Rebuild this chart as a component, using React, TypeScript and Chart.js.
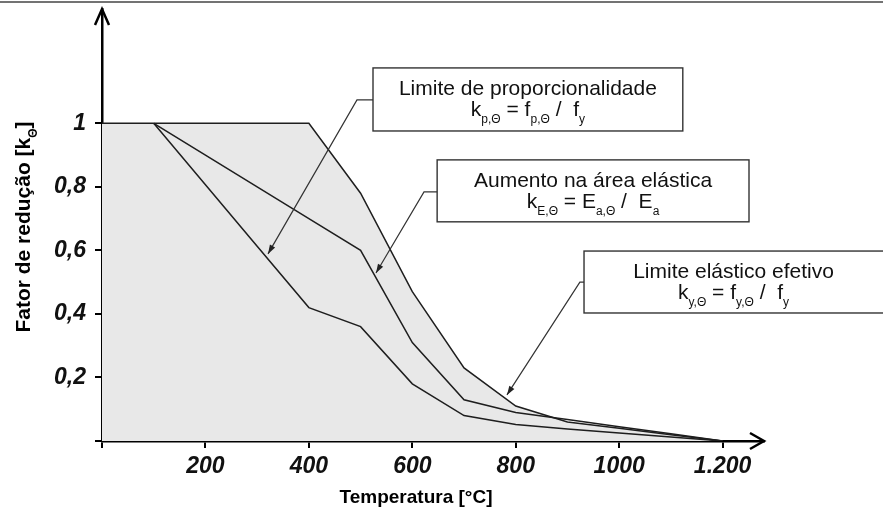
import React, { useEffect, useRef } from "react";
import { Chart, registerables } from "chart.js";

Chart.register(...registerables);

// ---- data ----
const tempsKy = [0, 100, 200, 300, 400, 500, 600, 700, 800, 900, 1000, 1100, 1200];
const kyValues = [1, 1, 1, 1, 1, 0.78, 0.47, 0.23, 0.11, 0.06, 0.04, 0.02, 0];
const tempsK = [100, 200, 300, 400, 500, 600, 700, 800, 900, 1000, 1100, 1200];
const kEValues = [1, 0.9, 0.8, 0.7, 0.6, 0.31, 0.13, 0.09, 0.0675, 0.045, 0.0225, 0];
const kpValues = [1, 0.807, 0.613, 0.42, 0.36, 0.18, 0.08, 0.052, 0.0375, 0.025, 0.0125, 0];

const xTicks = [0, 200, 400, 600, 800, 1000, 1200];
const xTickLabels = ["", "200", "400", "600", "800", "1000", "1.200"];
const yTicks = [0, 0.2, 0.4, 0.6, 0.8, 1];
const yTickLabels = ["", "0,2", "0,4", "0,6", "0,8", "1"];

const xTitle = "Temperatura [°C]";
const yTitleMain = "Fator de redução [k";
const yTitleSub = "Θ";
const yTitleEnd = "]";

type Seg = { t: string; sub?: boolean };
type Note = {
  lines: Seg[][];
  box: { x0: number; x1: number; y0: number; y1: number };
  elbow: { x: number; y: number };
  tip: { x: number; y: number };
};

// annotation anchors in data units
const notes: Note[] = [
  {
    lines: [
      [{ t: "Limite de proporcionalidade" }],
      [{ t: "k" }, { t: "p,Θ", sub: true }, { t: " = f" }, { t: "p,Θ", sub: true }, { t: " /  f" }, { t: "y", sub: true }],
    ],
    box: { x0: 524, x1: 1123, y0: 1.1745, y1: 0.976 },
    elbow: { x: 493, y: 1.074 },
    tip: { x: 321, y: 0.589 },
  },
  {
    lines: [
      [{ t: "Aumento na área elástica" }],
      [{ t: "k" }, { t: "E,Θ", sub: true }, { t: " = E" }, { t: "a,Θ", sub: true }, { t: " /  E" }, { t: "a", sub: true }],
    ],
    box: { x0: 648, x1: 1251, y0: 0.885, y1: 0.69 },
    elbow: { x: 622.6, y: 0.784 },
    tip: { x: 529.8, y: 0.529 },
  },
  {
    lines: [
      [{ t: "Limite elástico efetivo" }],
      [{ t: "k" }, { t: "y,Θ", sub: true }, { t: " = f" }, { t: "y,Θ", sub: true }, { t: " /  f" }, { t: "y", sub: true }],
    ],
    box: { x0: 932, x1: 1512, y0: 0.598, y1: 0.403 },
    elbow: { x: 924, y: 0.5 },
    tip: { x: 783, y: 0.145 },
  },
];

const FAMILY = '"Liberation Sans", Arial, sans-serif';

function drawRich(ctx: CanvasRenderingContext2D, segs: Seg[], cx: number, baseline: number, size: number, weight: string) {
  const subSize = Math.round(size * 0.58);
  const mainFont = `${weight} ${size}px ${FAMILY}`;
  const subFont = `${weight} ${subSize}px ${FAMILY}`;
  let total = 0;
  for (const s of segs) {
    ctx.font = s.sub ? subFont : mainFont;
    total += ctx.measureText(s.t).width;
  }
  let x = cx - total / 2;
  ctx.textAlign = "left";
  ctx.textBaseline = "alphabetic";
  for (const s of segs) {
    ctx.font = s.sub ? subFont : mainFont;
    ctx.fillText(s.t, x, baseline + (s.sub ? size * 0.34 : 0));
    x += ctx.measureText(s.t).width;
  }
}

const decorPlugin = {
  id: "decor",
  afterDraw(chart: any) {
    const ctx: CanvasRenderingContext2D = chart.ctx;
    const xs = chart.scales.x;
    const ys = chart.scales.y;
    const { left, top, right, bottom } = chart.chartArea;
    ctx.save();
    // top frame line
    ctx.strokeStyle = "#444";
    ctx.lineWidth = 1.5;
    ctx.beginPath();
    ctx.moveTo(0, 2);
    ctx.lineTo(chart.width, 2);
    ctx.stroke();

    // axis arrowheads
    ctx.strokeStyle = "#000";
    ctx.lineWidth = 2.5;
    ctx.lineJoin = "miter";
    ctx.beginPath();
    ctx.moveTo(left - 7, top + 16);
    ctx.lineTo(left, top);
    ctx.lineTo(left + 7, top + 16);
    ctx.stroke();
    ctx.beginPath();
    ctx.moveTo(right - 14, bottom - 8);
    ctx.lineTo(right, bottom);
    ctx.lineTo(right - 14, bottom + 8);
    ctx.stroke();

    // annotations
    for (const n of notes) {
      const bx0 = xs.getPixelForValue(n.box.x0);
      const bx1 = xs.getPixelForValue(n.box.x1);
      const by0 = ys.getPixelForValue(n.box.y0);
      const by1 = ys.getPixelForValue(n.box.y1);
      const ex = xs.getPixelForValue(n.elbow.x);
      const ey = ys.getPixelForValue(n.elbow.y);
      const tx = xs.getPixelForValue(n.tip.x);
      const ty = ys.getPixelForValue(n.tip.y);

      ctx.fillStyle = "#fff";
      ctx.fillRect(bx0, by0, bx1 - bx0, by1 - by0);
      ctx.strokeStyle = "#333";
      ctx.lineWidth = 1.4;
      ctx.strokeRect(bx0, by0, bx1 - bx0, by1 - by0);

      ctx.lineWidth = 1.2;
      ctx.beginPath();
      ctx.moveTo(bx0, ey);
      ctx.lineTo(ex, ey);
      ctx.lineTo(tx, ty);
      ctx.stroke();
      const ang = Math.atan2(ty - ey, tx - ex);
      const L = 9, W = 3;
      ctx.fillStyle = "#222";
      ctx.beginPath();
      ctx.moveTo(tx, ty);
      ctx.lineTo(tx - L * Math.cos(ang) + W * Math.sin(ang), ty - L * Math.sin(ang) - W * Math.cos(ang));
      ctx.lineTo(tx - L * Math.cos(ang) - W * Math.sin(ang), ty - L * Math.sin(ang) + W * Math.cos(ang));
      ctx.closePath();
      ctx.fill();

      const cx = (bx0 + Math.min(bx1, chart.width)) / 2;
      ctx.fillStyle = "#111";
      drawRich(ctx, n.lines[0], cx, by0 + 27, 21, "normal");
      drawRich(ctx, n.lines[1], cx, by0 + 48, 21, "normal");
    }

    // axis titles
    ctx.fillStyle = "#000";
    ctx.font = `bold 19px ${FAMILY}`;
    ctx.textAlign = "center";
    ctx.textBaseline = "alphabetic";
    ctx.fillText(xTitle, (left + right) / 2 - 17, 503);

    ctx.save();
    ctx.translate(30, 227);
    ctx.rotate(-Math.PI / 2);
    drawRich(ctx, [{ t: yTitleMain }, { t: yTitleSub, sub: true }, { t: yTitleEnd }], 0, 0, 21, "bold");
    ctx.restore();

    ctx.restore();
  },
};

export default function App() {
  const ref = useRef<HTMLCanvasElement | null>(null);
  useEffect(() => {
    if (!ref.current) return;
    const tickFont = { family: FAMILY, size: 23, style: "italic" as const, weight: "bold" as const };
    const chart = new Chart(ref.current, {
      type: "line",
      data: {
        datasets: [
          {
            label: "ky",
            data: tempsKy.map((t, i) => ({ x: t, y: kyValues[i] })),
            borderColor: "#1e1e1e",
            borderWidth: 1.5,
            pointRadius: 0,
            fill: "origin",
            backgroundColor: "#e8e8e8",
            tension: 0,
          },
          {
            label: "kE",
            data: tempsK.map((t, i) => ({ x: t, y: kEValues[i] })),
            borderColor: "#1e1e1e",
            borderWidth: 1.5,
            pointRadius: 0,
            fill: false,
            tension: 0,
          },
          {
            label: "kp",
            data: tempsK.map((t, i) => ({ x: t, y: kpValues[i] })),
            borderColor: "#1e1e1e",
            borderWidth: 1.5,
            pointRadius: 0,
            fill: false,
            tension: 0,
          },
        ],
      },
      options: {
        responsive: false,
        animation: false,
        layout: { padding: { left: 0, right: 119, top: 9, bottom: 0 } },
        plugins: {
          legend: { display: false },
          tooltip: { enabled: false },
          filler: { drawTime: "beforeDatasetsDraw" },
        },
        scales: {
          x: {
            type: "linear",
            min: 0,
            max: 1280,
            afterBuildTicks: (s: any) => {
              s.ticks = xTicks.map((v) => ({ value: v }));
            },
            afterFit: (s: any) => {
              s.height = 67;
              s.paddingLeft = 0;
              s.paddingRight = 0;
              s.paddingTop = 0;
              s.paddingBottom = 0;
            },
            ticks: {
              autoSkip: false,
              maxRotation: 0,
              padding: 5,
              color: "#111",
              font: tickFont,
              callback: (v: any) => xTickLabels[xTicks.indexOf(Number(v))] ?? "",
            },
            grid: { drawOnChartArea: false, drawTicks: true, tickLength: 7, color: "#000", lineWidth: 2 },
            border: { display: true, color: "#000", width: 2.5 },
          },
          y: {
            type: "linear",
            min: 0,
            max: 1.36,
            afterBuildTicks: (s: any) => {
              s.ticks = yTicks.map((v) => ({ value: v }));
            },
            afterFit: (s: any) => {
              s.width = 102;
              s.paddingLeft = 0;
              s.paddingRight = 0;
              s.paddingTop = 0;
              s.paddingBottom = 0;
            },
            ticks: {
              autoSkip: false,
              padding: 9,
              color: "#111",
              font: tickFont,
              callback: (v: any) => {
                const i = yTicks.findIndex((t) => Math.abs(t - Number(v)) < 1e-6);
                return i >= 0 ? yTickLabels[i] : "";
              },
            },
            grid: { drawOnChartArea: false, drawTicks: true, tickLength: 7, color: "#000", lineWidth: 2 },
            border: { display: true, color: "#000", width: 2.5 },
          },
        },
      },
      plugins: [decorPlugin],
    });
    return () => chart.destroy();
  }, []);
  return (
    <div style={{ position: "fixed", left: 0, top: 0, width: 883, height: 508, background: "#fff" }}>
      <canvas ref={ref} width={883} height={508} />
    </div>
  );
}
